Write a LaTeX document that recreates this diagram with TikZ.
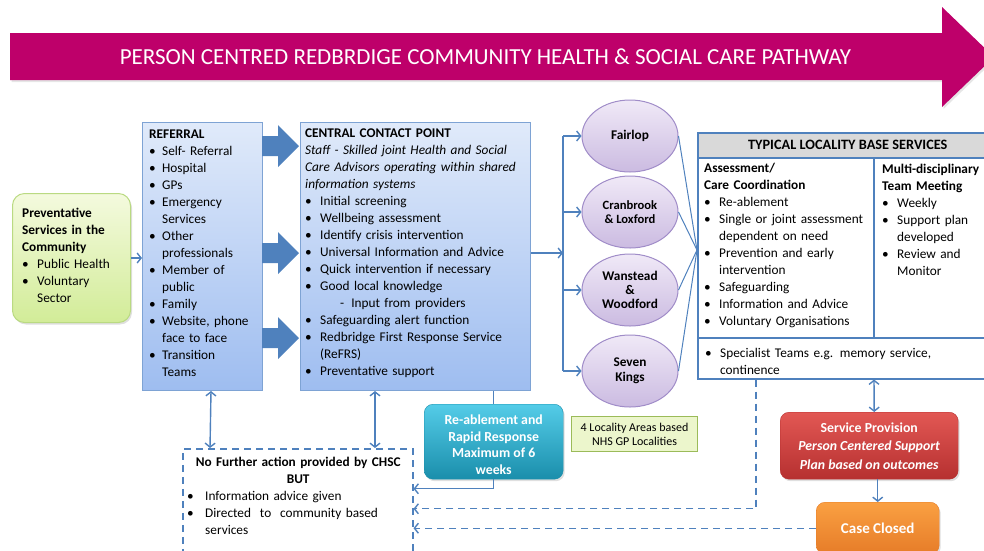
\documentclass[tikz,border=0pt]{standalone}
\usepackage{fontspec}
\setmainfont{Carlito}
\usetikzlibrary{arrows.meta,shapes.geometric,shadows}
\setlength{\parindent}{0pt}

\definecolor{pathmag}{RGB}{190,0,106}
\definecolor{linkblue}{RGB}{79,129,189}
\definecolor{boxedge}{RGB}{126,163,212}
\definecolor{boxtop}{RGB}{224,234,250}
\definecolor{boxbot}{RGB}{158,189,240}
\definecolor{prevtop}{RGB}{244,250,222}
\definecolor{prevbot}{RGB}{210,236,152}
\definecolor{prevedge}{RGB}{186,218,130}
\definecolor{loctop}{RGB}{240,233,247}
\definecolor{locbot}{RGB}{203,187,225}
\definecolor{locedge}{RGB}{160,140,200}
\definecolor{rrtop}{RGB}{84,204,232}
\definecolor{rrbot}{RGB}{26,142,171}
\definecolor{sptop}{RGB}{226,88,84}
\definecolor{spbot}{RGB}{182,48,48}
\definecolor{cctop}{RGB}{250,160,66}
\definecolor{ccbot}{RGB}{230,124,40}
\definecolor{notefill}{RGB}{236,246,204}
\definecolor{noteedge}{RGB}{155,187,89}

\newcommand\bitem[2][15pt]{\par\hangindent=#1\hangafter=1\makebox[#1][l]{\textbullet}{\let\\\newline#2}}

\begin{document}
\begin{tikzpicture}[x=1pt,y=-1pt,>={Straight Barb[length=4pt,width=10pt]},
  norm/.style={font=\fontsize{13.3}{17}\selectfont},
  txt/.style={norm,anchor=north west,inner sep=0pt,align=left},
  link/.style={draw=linkblue,line width=1.4pt},
  dashlink/.style={link,dash pattern=on 7pt off 5pt},
  bluebox/.style={anchor=north west,draw=boxedge,line width=1pt,top color=boxtop,bottom color=boxbot,inner sep=0pt},
  colbox/.style={anchor=north west,rounded corners=9pt,inner sep=0pt,text=white,align=center,
    drop shadow={opacity=0.25,shadow xshift=1.5pt,shadow yshift=-2pt}},
  locality/.style={ellipse,draw=locedge,line width=1pt,top color=loctop,bottom color=locbot,
    minimum width=96,minimum height=72,inner sep=0pt,align=center,font=\bfseries\fontsize{13.3}{14}\selectfont},
  ]
\useasboundingbox (0,0) rectangle (984,550);

% title arrow
\fill[pathmag,drop shadow={opacity=0.2,shadow xshift=1.5pt,shadow yshift=-2pt}]
  (10,33) -- (942,33) -- (942,7) -- (994,57) -- (942,107) -- (942,80) -- (10,80) -- cycle;
\node[text=white,font=\fontsize{23}{26}\selectfont] (title) at (485.5,57)
  {PERSON CENTRED REDBRDIGE COMMUNITY HEALTH \& SOCIAL CARE PATHWAY};

% preventative services
\node[colbox,draw=prevedge,line width=1pt,top color=prevtop,bottom color=prevbot,
  minimum width=118,minimum height=129,rounded corners=12pt] (prev) at (12,193) {};
\node[txt,text width=106] (prevtxt) at (22,207.5)
  {\textbf{Preventative}\\\textbf{Services in the}\\\textbf{Community}
   \bitem{Public Health}\bitem{Voluntary\\Sector}\par};

% referral
\node[bluebox,minimum width=120,minimum height=268] (ref) at (142,122) {};
\node[txt,text width=112] (reftxt) at (149,129.5)
  {\textbf{REFERRAL}\bitem[13pt]{Self- Referral}\bitem[13pt]{Hospital}\bitem[13pt]{GPs}
   \bitem[13pt]{Emergency\\Services}\bitem[13pt]{Other\\professionals}\bitem[13pt]{Member of\\public}
   \bitem[13pt]{Family}\bitem[13pt]{Website, phone\\face to face}\bitem[13pt]{Transition\\Teams}\par};

% central contact point
\node[bluebox,minimum width=230,minimum height=268] (cc) at (300,122) {};
\node[txt,text width=224] (cctxt) at (305,128.5)
  {\textbf{CENTRAL CONTACT POINT}\\
   \textit{Staff - Skilled joint Health and Social}\\
   \textit{Care Advisors operating within shared}\\
   \textit{information systems}
   \bitem{Initial screening}\bitem{Wellbeing assessment}\bitem{Identify crisis intervention}
   \bitem{Universal Information and Advice}\bitem{Quick intervention if necessary}
   \bitem{Good local knowledge}\par\hspace*{35pt}-\hspace{7pt}Input from providers
   \bitem{Safeguarding alert function}\bitem{Redbridge First Response Service\\(ReFRS)}
   \bitem{Preventative support}\par};

% block arrows
\foreach \y in {146,253,338}
  \fill[linkblue] (262,\y-10) -- (278,\y-10) -- (278,\y-21) -- (299,\y)
    -- (278,\y+21) -- (278,\y+10) -- (262,\y+10) -- cycle;

% localities
\node[locality] (fairlop) at (630,136) {Fairlop};
\node[locality,font=\bfseries\fontsize{12.6}{14}\selectfont] (cranbrook) at (630,212) {Cranbrook\\\& Loxford};
\node[locality] (wanstead) at (630,290) {Wanstead\\\&\\Woodford};
\node[locality,font=\bfseries\fontsize{13.3}{15}\selectfont] (kings) at (630,371) {Seven\\Kings};

\coordinate (split) at (563,253);
\coordinate (hub) at (697,250);
\draw[link,->] (cc.east |- split) -- (split);
\draw[link] (split |- fairlop) -- (split |- kings);
\foreach \n in {fairlop,cranbrook,wanstead,kings} {
  \draw[link,->] (split |- \n) -- (\n.west);
  \draw[link,line width=1pt] (\n.east) -- (hub);
}

% typical locality base services
\node[anchor=north west,draw=linkblue,line width=1.5pt,fill=white,minimum width=300,minimum height=246] (loc) at (697,132) {};
\node[anchor=north west,draw=linkblue,line width=1.5pt,fill=black!15,minimum width=300,minimum height=25,
  inner sep=0pt,font=\bfseries\fontsize{14.3}{17}\selectfont] (lochead) at (697,132) {TYPICAL LOCALITY BASE SERVICES};
\draw[link] (874,157) -- (874,338);
\draw[link] (697,338) -- (997,338);
\node[txt,text width=168] (asstxt) at (704,163)
  {\textbf{Assessment/}\\\textbf{Care Coordination}
   \bitem{Re-ablement}\bitem{Single or joint assessment\\dependent on need}
   \bitem{Prevention and early\\intervention}\bitem{Safeguarding}
   \bitem{Information and Advice}\bitem{Voluntary Organisations}\par};
\node[txt,text width=130] (mdttxt) at (882,163.5)
  {\textbf{Multi-disciplinary}\\\textbf{Team Meeting}
   \bitem{Weekly}\bitem{Support plan\\developed}\bitem{Review and\\Monitor}\par};
\node[txt,text width=270] (spectxt) at (705,340)
  {\bitem{Specialist Teams e.g. memory service,\\continence}\par};

% note
\node[anchor=north west,draw=noteedge,line width=1pt,fill=notefill,minimum width=126,minimum height=35,
  inner sep=0pt,align=center,font=\fontsize{12}{14}\selectfont] (note) at (571,416)
  {4 Locality Areas based\\NHS GP Localities};

% re-ablement
\node[colbox,draw=rrbot,top color=rrtop,bottom color=rrbot,minimum width=139,minimum height=75,
  font=\bfseries\fontsize{13.8}{16.5}\selectfont] (rr) at (424,404)
  {\rule{0pt}{16pt}Re-ablement and\\Rapid Response\\Maximum of 6\\weeks};

% no further action
\node[anchor=north west,draw=linkblue,line width=1.5pt,dash pattern=on 7pt off 5pt,
  minimum width=230,minimum height=112] (nfa) at (182,448) {};
\node[txt,text width=222] (nfatxt) at (187,456.5)
  {{\centering\textbf{No Further action provided by CHSC}\\\textbf{BUT}\par}
   \bitem[18pt]{Information advice given}\bitem[18pt]{Directed\ \ to\ \ community based\\services}\par};

% service provision and case closed
\node[colbox,draw=spbot,top color=sptop,bottom color=spbot,minimum width=178,minimum height=67,
  font=\bfseries\fontsize{13.8}{18.5}\selectfont] (service) at (780,412)
  {Service Provision\\\textit{Person Centered Support}\\\textit{Plan based on outcomes}};
\node[colbox,draw=ccbot,top color=cctop,bottom color=ccbot,minimum width=123,minimum height=52,
  font=\bfseries\fontsize{15}{18}\selectfont] (closed) at (816,502) {Case Closed};

% connectors below
\draw[link,<->] ([xshift=-52pt]ref.south east) -- ([xshift=28pt]nfa.north west);
\draw[link,<->] ([xshift=75pt]cc.south west) -- ([xshift=193pt]nfa.north west);
\draw[link] (cc.south -| rr.north) -- (rr.north);
\draw[link,->] (rr.south) |- ([yshift=16pt]nfa.east);
\draw[dashlink,->] ([xshift=59pt]loc.south west) |- ([yshift=-4pt]nfa.east);
\draw[dashlink,->] (closed.west) -- (nfa.east |- closed.west);
\draw[link,<->] ([xshift=177pt]loc.south west) -- ([xshift=5pt]service.north);
\draw[link,->] (service.south -| closed.north) -- (closed.north);
\draw[link,->] (prev.east) -- (ref.west |- prev.east);

\end{tikzpicture}
\end{document}
